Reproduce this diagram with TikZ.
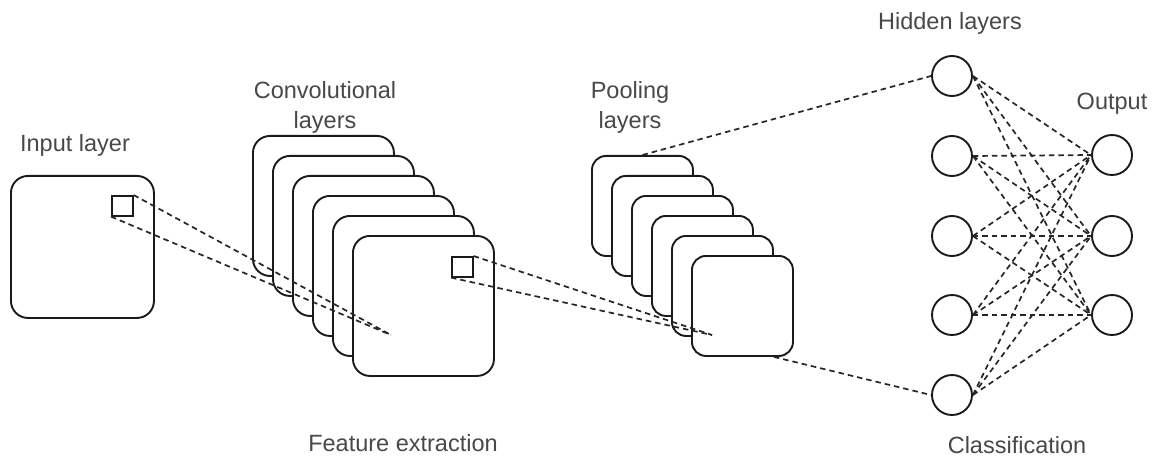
\documentclass[tikz,border=0pt]{standalone}
\usepackage{fontspec}
\setmainfont{Liberation Sans}
\definecolor{inkline}{HTML}{1A1A1A}
\definecolor{dashink}{HTML}{262626}
\definecolor{labelgray}{HTML}{484848}
\begin{document}
\begin{tikzpicture}[x=1pt,y=-1pt,
  lbl/.style={text=labelgray, font=\fontsize{23.5}{30}\selectfont, align=center, inner sep=0pt},
  bigmap/.style={draw=inkline, line width=1.9pt, fill=white, rounded corners=17pt,
    minimum width=141pt, minimum height=140pt, inner sep=0pt, anchor=north west},
  poolmap/.style={draw=inkline, line width=1.9pt, fill=white, rounded corners=14pt,
    minimum width=101pt, minimum height=100pt, inner sep=0pt, anchor=north west},
  kernel/.style={draw=inkline, line width=1.6pt, fill=white, minimum width=21pt,
    minimum height=20pt, inner sep=0pt, anchor=north west},
  neuron/.style={draw=inkline, line width=1.9pt, circle, minimum size=40pt, inner sep=0pt},
  link/.style={draw=dashink, line width=1.7pt, dash pattern=on 5.5pt off 4pt}
]
\useasboundingbox (0,0) rectangle (1158,457);

% input image with its receptive field
\node[bigmap, minimum width=143pt, minimum height=142pt] (inp) at (10,175) {};
\node[kernel] (insq) at (111,195) {};

% stack of convolutional feature maps
\foreach \k in {0,...,5}
  \node[bigmap] (c\k) at (252+20*\k,135+20*\k) {};
\node[kernel] (convsq) at (451,256) {};

% stack of pooled maps
\foreach \k in {0,...,5}
  \node[poolmap] (p\k) at (591+20*\k,155+20*\k) {};

% fully connected part
\foreach \i/\y in {1/76,2/156,3/236,4/315,5/395}
  \node[neuron] (h\i) at (952,\y) {};
\foreach \j/\y in {1/155,2/236,3/315}
  \node[neuron] (o\j) at (1112,\y) {};

% convergence points of the projections
\coordinate (convfocus) at (391,335);
\coordinate (poolfocus) at (712,335);
\coordinate (poolexit) at ([xshift=-20pt]p5.south east);

\draw[link] (insq.north east) -- (convfocus);
\draw[link] (insq.south west) -- (convfocus);
\draw[link] (convsq.north east) -- (poolfocus);
\draw[link] (convsq.south west) -- (poolfocus);
\draw[link] (p0.north) -- (h1.west);
\draw[link] (poolexit) -- (h5.west);
\foreach \i in {1,...,5}
  \foreach \j in {1,2,3}
    \draw[link] (h\i.east) -- (o\j.west);

% labels
\node[lbl] (tin) at (75,145) {Input layer};
\node[lbl] (tconv) at (325,107) {Convolutional\\layers};
\node[lbl] (tpool) at (630,107) {Pooling\\layers};
\node[lbl] (thid) at (950,23) {Hidden layers};
\node[lbl] (tout) at (1112,104) {Output};
\node[lbl] (tfeat) at (403,443) {Feature extraction};
\node[lbl] (tcls) at (1017,445) {Classification};
\end{tikzpicture}
\end{document}
